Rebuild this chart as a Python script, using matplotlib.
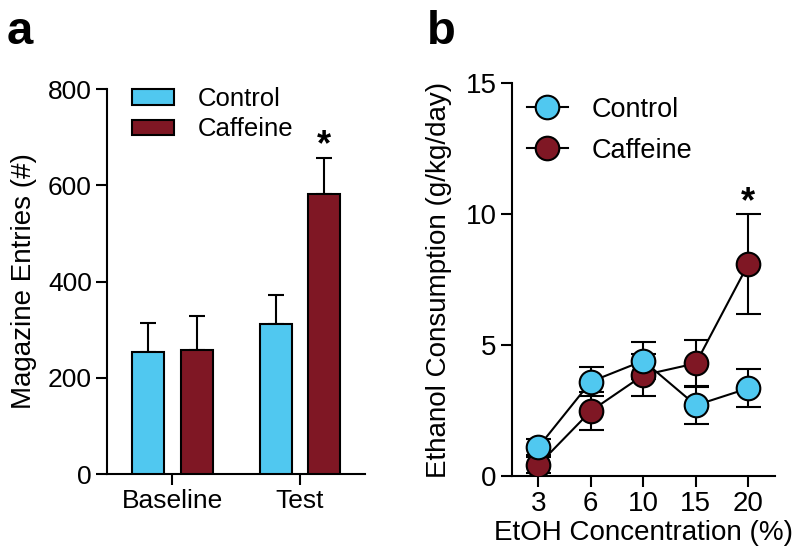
import matplotlib.pyplot as plt
from matplotlib.patches import Patch
from matplotlib.lines import Line2D
import numpy as np

plt.rcParams['font.family'] = ['Liberation Sans', 'DejaVu Sans']

blue = '#50C8F0'
red = '#7F1724'

# panel a: magazine entries
phases = ['Baseline', 'Test']
ctrl_entries = [253, 312]
ctrl_entries_err = [61, 60]
caff_entries = [258, 582]
caff_entries_err = [70, 75]

# panel b: ethanol consumption
conc = ['3', '6', '10', '15', '20']
ctrl_etoh = [1.1, 3.6, 4.4, 2.7, 3.35]
ctrl_etoh_err = [0.3, 0.55, 0.7, 0.72, 0.73]
caff_etoh = [0.42, 2.48, 3.85, 4.3, 8.1]
caff_etoh_err = [0.3, 0.73, 0.8, 0.9, 1.9]

fig = plt.figure(figsize=(8, 5.58), dpi=100)
ax1 = fig.add_axes([0.134, 0.1505, 0.3225, 0.690])
ax2 = fig.add_axes([0.64, 0.147, 0.329, 0.704])

for ax, fs in ((ax1, 19), (ax2, 20)):
    for s in ('top', 'right'):
        ax.spines[s].set_visible(False)
    for s in ('left', 'bottom'):
        ax.spines[s].set_linewidth(1.5)
    ax.tick_params(length=8, width=1.5, labelsize=fs, pad=3)

# ---- a ----
x = np.arange(len(phases))
off = 0.19
w = 0.25
ax1.bar(x - off, ctrl_entries, w, color=blue, edgecolor='black', linewidth=1.5, zorder=3)
ax1.bar(x + off, caff_entries, w, color=red, edgecolor='black', linewidth=1.5, zorder=3)
ax1.errorbar(x - off, ctrl_entries, yerr=[[0] * 2, ctrl_entries_err], fmt='none',
             ecolor='black', elinewidth=1.5, capsize=6, capthick=1.5, zorder=2)
ax1.errorbar(x + off, caff_entries, yerr=[[0] * 2, caff_entries_err], fmt='none',
             ecolor='black', elinewidth=1.5, capsize=6, capthick=1.5, zorder=2)
ax1.set_xlim(-0.51, 1.51)
ax1.set_ylim(0, 800)
ax1.set_yticks([0, 200, 400, 600, 800])
ax1.set_xticks(x)
ax1.set_xticklabels(phases)
ax1.set_ylabel('Magazine Entries (#)', fontsize=20, labelpad=8)
ax1.text(1 + off, 682, '*', fontsize=26, fontweight='bold', ha='center', va='center')

h1 = [Patch(facecolor=blue, edgecolor='black', linewidth=1.5),
      Patch(facecolor=red, edgecolor='black', linewidth=1.5)]
ax1.legend(h1, ['Control', 'Caffeine'], loc='upper left', bbox_to_anchor=(0.097, 1.005),
           frameon=False, fontsize=18.5, handlelength=1.63, handleheight=0.56,
           handletextpad=0.93, labelspacing=0.25, borderpad=0, borderaxespad=0)

# ---- b ----
xb = np.arange(len(conc))
ax2.errorbar(xb, caff_etoh, yerr=caff_etoh_err, fmt='none', ecolor='black',
             elinewidth=1.5, capsize=9, capthick=1.5, zorder=1)
ax2.errorbar(xb, ctrl_etoh, yerr=ctrl_etoh_err, fmt='none', ecolor='black',
             elinewidth=1.5, capsize=9, capthick=1.5, zorder=1)
ax2.plot(xb, caff_etoh, '-o', color='black', lw=1.5, markersize=17,
         markerfacecolor=red, markeredgecolor='black', markeredgewidth=1.5, zorder=3)
ax2.plot(xb, ctrl_etoh, '-o', color='black', lw=1.5, markersize=17,
         markerfacecolor=blue, markeredgecolor='black', markeredgewidth=1.5, zorder=4)
ax2.set_xlim(-0.5, 4.51)
ax2.set_ylim(0, 15)
ax2.set_yticks([0, 5, 10, 15])
ax2.set_xticks(xb)
ax2.set_xticklabels(conc)
ax2.set_ylabel('Ethanol Consumption (g/kg/day)', fontsize=20, labelpad=10)
ax2.set_xlabel('EtOH Concentration (%)', fontsize=20, labelpad=2)
ax2.text(4, 10.43, '*', fontsize=26, fontweight='bold', ha='center', va='center')

h2 = [Line2D([], [], color='black', lw=1.5, marker='o', markersize=17,
             markerfacecolor=c, markeredgecolor='black', markeredgewidth=1.5)
      for c in (blue, red)]
ax2.legend(h2, ['Control', 'Caffeine'], loc='upper left', bbox_to_anchor=(0.057, 0.965),
           frameon=False, fontsize=19.5, handlelength=1.5, handletextpad=0.9,
           labelspacing=0.55, borderpad=0, borderaxespad=0)

fig.text(7 / 800, 1 - 44 / 558, 'a', fontsize=34, fontweight='bold', va='baseline')
fig.text(427 / 800, 1 - 44 / 558, 'b', fontsize=34, fontweight='bold', va='baseline')

fig.savefig('out.png', dpi=100)
